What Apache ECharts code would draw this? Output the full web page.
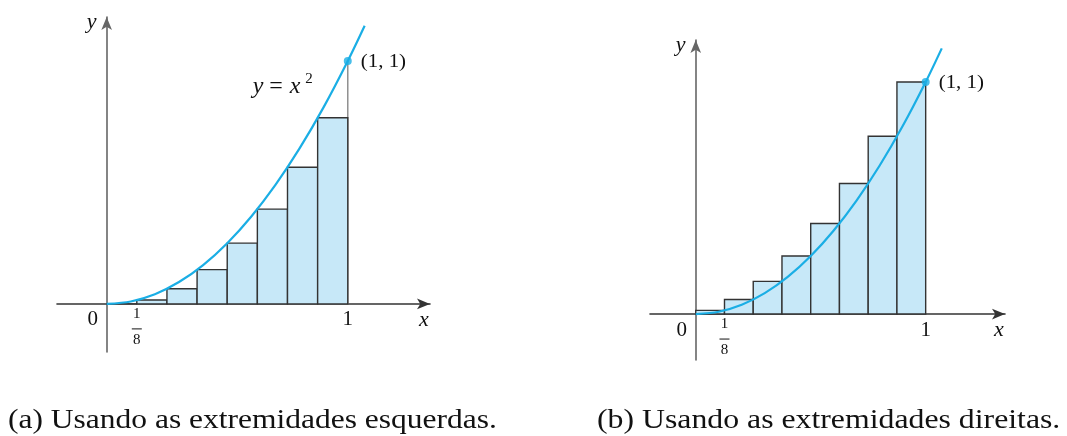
<!DOCTYPE html>
<html>
<head>
<meta charset="utf-8">
<style>
  html, body { margin: 0; padding: 0; background: #fff; }
  #main { width: 1067px; height: 436px; }
</style>
<script src="https://cdn.jsdelivr.net/npm/echarts@6/dist/echarts.min.js"></script>
</head>
<body>
<div id="main"></div>
<script>
// intervalos [a, b] da particao com n = 8
var leftEnds = [0, 0.125, 0.25, 0.375, 0.5, 0.625, 0.75, 0.875];
var rightEnds = [0.125, 0.25, 0.375, 0.5, 0.625, 0.75, 0.875, 1];
// alturas dos retangulos
var heightsLeft = [0, 0.016, 0.0625, 0.141, 0.25, 0.39, 0.5625, 0.766];
var heightsRight = [0.016, 0.0625, 0.141, 0.25, 0.39, 0.5625, 0.766, 1];
// pontos da curva y = x^2
var curveX = [0, 0.1, 0.2, 0.3, 0.4, 0.5, 0.6, 0.7, 0.8, 0.9, 1, 1.07];
var curveY = [0, 0.01, 0.04, 0.09, 0.16, 0.25, 0.36, 0.49, 0.64, 0.81, 1, 1.145];
var captions = ['(a) Usando as extremidades esquerdas.', '(b) Usando as extremidades direitas.'];

var SERIF = '"Liberation Serif", "DejaVu Serif", serif';
var BLUE = '#1aaee5';
var INK = '#111';

function rectData(heights) {
	var out = [];
	for (var i = 0; i < heights.length; i++) {
		out.push([leftEnds[i], rightEnds[i], heights[i]]);
	}
	return out;
}

var curve = [];
for (var i = 0; i < curveX.length; i++) {
	curve.push([curveX[i], curveY[i]]);
}

function renderRect(params, api) {
	var p0 = api.coord([api.value(0), 0]);
	var p1 = api.coord([api.value(1), api.value(2)]);
	return {
		type: 'rect',
		shape: { x: p0[0], y: p1[1], width: p1[0] - p0[0], height: p0[1] - p1[1] },
		style: { fill: '#c7e8f8', stroke: '#333', lineWidth: 1.4 }
	};
}

function makeAxis(idx, type, min, max) {
	return {
		type: 'value',
		gridIndex: idx,
		min: min,
		max: max,
		axisLine: {
			onZero: true,
			symbol: ['none', 'arrow'],
			symbolSize: [8, 13],
			lineStyle: { color: type == 'x' ? '#333' : '#666', width: 1.6 }
		},
		axisTick: { show: false },
		axisLabel: { show: false },
		splitLine: { show: false }
	};
}

var chart = echarts.init(document.getElementById('main'));
var series = [];
[heightsLeft, heightsRight].forEach(function (h, g) {
	series.push({
		type: 'custom', xAxisIndex: g, yAxisIndex: g, z: 2,
		renderItem: renderRect, data: rectData(h), silent: true
	});
	series.push({
		type: 'line', xAxisIndex: g, yAxisIndex: g, z: 4, data: curve,
		smooth: 0.3, showSymbol: false, lineStyle: { color: BLUE, width: 2.2 }
	});
	series.push({
		type: 'scatter', xAxisIndex: g, yAxisIndex: g, z: 5, data: [[1, 1]],
		symbolSize: 8, itemStyle: { color: BLUE }
	});
});
// linha vertical em x = 1 (painel a)
series.push({
	type: 'line', xAxisIndex: 0, yAxisIndex: 0, z: 1, data: [[1, 0], [1, 1]],
	showSymbol: false, lineStyle: { color: '#888', width: 1.4 }
});

chart.setOption({
	animation: false,
	backgroundColor: '#fff',
	grid: [
		{ left: 57, right: 637, top: 17, bottom: 84 },
		{ left: 650, right: 62, top: 40, bottom: 76 }
	],
	xAxis: [makeAxis(0, 'x', -0.206, 1.341), makeAxis(1, 'x', -0.199, 1.345)],
	yAxis: [makeAxis(0, 'y', -0.198, 1.181), makeAxis(1, 'y', -0.198, 1.181)],
	series: series
});

// rotulos posicionados a partir das escalas
function px(g, pt) {
	return chart.convertToPixel({ xAxisIndex: g, yAxisIndex: g }, pt);
}
function txt(text, x, y, size, opts) {
	opts = opts || {};
	return {
		type: 'text', z: 10,
		x: x, y: y, scaleX: opts.sx || 1,
		style: {
			text: text, x: 0, y: 0, fill: INK,
			font: (opts.italic ? 'italic ' : '') + size + 'px ' + SERIF,
			align: opts.align || 'center', verticalAlign: 'middle'
		}
	};
}
var graphics = [];
[0, 1].forEach(function (g) {
	var o = px(g, [0, 0]);
	var one = px(g, [1, 0]);
	var eighth = px(g, [0.125, 0]);
	var pt = px(g, [1, 1]);
	var xEnd = px(g, [g == 0 ? 1.341 : 1.345, 0]);
	var yEnd = px(g, [0, 1.181]);
	graphics.push(txt('0', o[0] - 14, o[1] + 16, 21));
	graphics.push(txt('1', one[0], one[1] + 16, 21));
	graphics.push(txt('x', xEnd[0] - 6, o[1] + 16, 22, { italic: true }));
	graphics.push(txt('y', yEnd[0] - 15, yEnd[1] + 5, 22, { italic: true }));
	graphics.push(txt('1', eighth[0], o[1] + 10, 15));
	graphics.push({
		type: 'line', z: 10,
		shape: { x1: eighth[0] - 5, y1: o[1] + 25, x2: eighth[0] + 5, y2: o[1] + 25 },
		style: { stroke: INK, lineWidth: 1 }
	});
	graphics.push(txt('8', eighth[0], o[1] + 36, 15));
	graphics.push(txt('(1, 1)', pt[0] + 13, pt[1] + 1, 19, { align: 'left', sx: 1.1 }));
});
graphics.push(txt('y', 258, 87, 24, { italic: true }));
graphics.push(txt('=', 276, 87, 24));
graphics.push(txt('x', 295, 87, 24, { italic: true }));
graphics.push(txt('2', 309, 79, 15));
graphics.push(txt(captions[0], 8, 421, 28, { align: 'left', sx: 1.125 }));
graphics.push(txt(captions[1], 597, 421, 28, { align: 'left', sx: 1.135 }));
chart.setOption({ graphic: graphics });
</script>
</body>
</html>
